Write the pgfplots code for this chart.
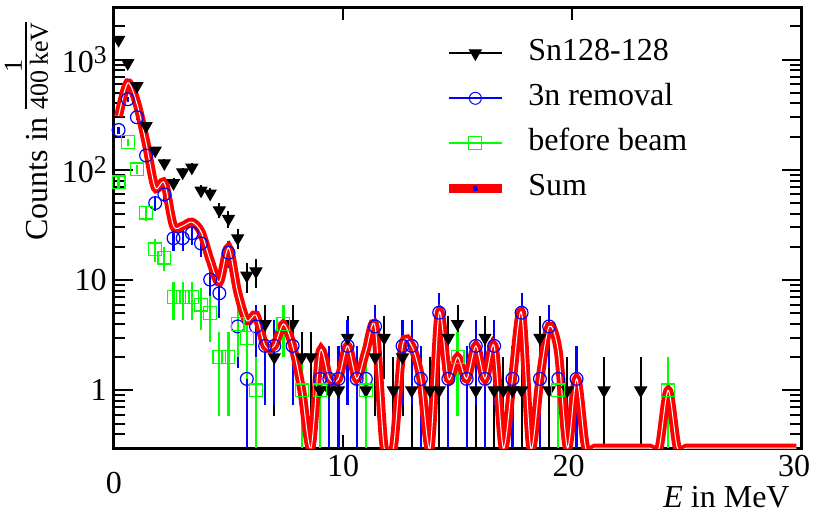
\documentclass[border=0pt]{standalone}
\usepackage{fontspec}
\setmainfont{Liberation Serif}
\usepackage{pgfplots}
\pgfplotsset{compat=1.18}
\usepackage{pgfplotstable}

\definecolor{rootgreen}{rgb}{0,1,0}

% Sn128-128 spectrum: bin centre, counts, upper and lower error
\pgfplotstableread{
x y ep em
0.2 1510 38.9 38.9
0.6 930 30.5 30.5
1.0 575 24.0 24.0
1.4 250 15.8 15.8
1.8 150 12.2 12.2
2.2 115 10.7 10.7
2.6 76 8.7 8.7
3.0 95 9.7 9.7
3.4 105 10.2 10.2
3.8 65 8.1 8.1
4.2 61 7.8 7.8
4.6 43 6.6 6.6
5.0 36 6.0 6.0
5.4 24 4.9 4.9
5.8 11 3.3 3.3
6.2 12 3.5 3.5
6.6 4 2 2
7.0 2 1.41 1.41
7.8 4 2 2
8.2 2 1.41 1.41
8.6 2 1.41 1.41
9.0 1 1 0.7
9.4 1 1 0.7
9.8 1 1 0.7
10.2 3 1.73 1.73
11.0 1 1 0.7
11.4 2 1.41 1.41
11.8 3 1.73 1.73
12.2 1 1 0.7
12.6 2 1.41 1.41
13.0 1 1 0.7
13.8 1 1 0.7
14.2 1 1 0.7
14.6 3 1.73 1.73
15.0 4 2 2
15.8 1 1 0.7
16.2 3 1.73 1.73
16.6 1 1 0.7
17.0 1 1 0.7
17.4 1 1 0.7
17.8 1 1 0.7
18.6 3 1.73 1.73
19.0 1 1 0.7
19.8 1 1 0.7
21.4 1 1 0.7
23.0 1 1 0.7
}\tabsn

% 3n removal template (scaled counts)
\pgfplotstableread{
x y ep em
0.2 230 17 17
0.6 437 23.5 23.5
1.0 300 19.5 19.5
1.4 135 13 13
1.8 50 8 8
2.2 60 8.7 8.7
2.6 24 5.5 5.5
3.0 24 5.5 5.5
3.4 26.6 5.8 5.8
3.8 21.5 5.2 5.2
4.2 10.1 3.6 3.6
4.6 7.6 3.1 3.1
5.0 17.7 4.7 4.7
5.4 3.8 2.19 2.19
5.8 1.27 1.27 0.97
6.2 3.8 2.19 2.19
6.6 2.53 1.79 1.79
7.0 2.53 1.79 1.79
7.8 2.53 1.79 1.79
9.0 1.27 1.27 0.97
9.4 1.27 1.27 0.97
9.8 1.27 1.27 0.97
10.2 2.53 1.79 1.79
10.6 1.27 1.27 0.97
11.0 1.27 1.27 0.97
11.4 3.8 2.19 2.19
12.6 2.53 1.79 1.79
13.0 2.53 1.79 1.79
13.4 1.27 1.27 0.97
14.2 5.06 2.53 2.53
14.6 1.27 1.27 0.97
15.4 1.27 1.27 0.97
15.8 2.53 1.79 1.79
16.2 1.27 1.27 0.97
16.6 2.53 1.79 1.79
17.4 1.27 1.27 0.97
17.8 5.06 2.53 2.53
18.6 1.27 1.27 0.97
19.0 3.8 2.19 2.19
19.4 1.27 1.27 0.97
20.2 1.27 1.27 0.97
}\tabthree

% before-beam background
\pgfplotstableread{
x y ep em
0.2 77 8.8 8.8
0.6 178 13.3 13.3
1.0 101 10 10
1.4 41 6.4 6.4
1.8 19 4.4 4.4
2.2 16 4 4
2.6 7 2.65 2.65
3.0 7 2.65 2.65
3.4 7 2.65 2.65
3.8 6 2.45 2.45
4.2 5 2.24 2.24
4.6 2 1.41 1.41
5.0 2 1.41 1.41
5.4 4 2 2
5.8 3 1.73 1.73
6.2 1 1 0.7
7.4 4 2 2
8.2 1 1 0.7
9.0 1 1 0.7
11.0 1 1 0.7
15.0 2 1.41 1.41
19.4 1 1 0.7
24.2 1 1 0.7
}\tabbeam

% sum of both templates; empty bins sit on the lower axis limit
\pgfplotstableread{
x y
0.2 307
0.6 615
1.0 401
1.4 176
1.8 69
2.2 76
2.6 31
3.0 31
3.4 33.6
3.8 27.5
4.2 15.1
4.6 9.6
5.0 19.7
5.4 7.8
5.8 4.27
6.2 4.8
6.6 2.53
7.0 2.53
7.4 4
7.8 2.53
8.2 1
8.6 0.3
9.0 2.27
9.4 1.27
9.8 1.27
10.2 2.53
10.6 1.27
11.0 2.27
11.4 3.8
11.8 0.3
12.2 0.3
12.6 2.53
13.0 2.53
13.4 1.27
13.8 0.3
14.2 5.06
14.6 1.27
15.0 2
15.4 1.27
15.8 2.53
16.2 1.27
16.6 2.53
17.0 0.3
17.4 1.27
17.8 5.06
18.2 0.3
18.6 1.27
19.0 3.8
19.4 2.27
19.8 0.3
20.2 1.27
20.6 0.3
21.0 0.3
21.4 0.3
21.8 0.3
22.2 0.3
22.6 0.3
23.0 0.3
23.4 0.3
23.8 0.3
24.2 1
24.6 0.3
25.0 0.3
25.4 0.3
25.8 0.3
26.2 0.3
26.6 0.3
27.0 0.3
27.4 0.3
27.8 0.3
28.2 0.3
28.6 0.3
29.0 0.3
29.4 0.3
29.8 0.3
}\tabsum

\newcommand\sups[1]{\raisebox{4.8bp}{\fontsize{12.8bp}{13bp}\selectfont #1}}
% unit fraction 1/(400 keV) for the y title
\newcommand\perbin{%
  \setbox0\hbox{\fontsize{13bp}{14bp}\selectfont 400\,keV}%
  \rlap{\copy0}%
  \rlap{\raisebox{10.5bp}{\rule{\wd0}{0.8bp}}}%
  \makebox[\wd0]{\raisebox{13bp}{\fontsize{13bp}{14bp}\selectfont 1}}%
}

\begin{document}
\fontsize{16bp}{19bp}\selectfont
\begin{tikzpicture}
\path[use as bounding box] (-57bp,-33.5bp) rectangle (350bp,224bp);
\begin{axis}[
  at={(0,0)}, anchor=south west,
  scale only axis, width=343.5bp, height=220.5bp,
  ymode=log, xmin=0, xmax=30, ymin=0.3, ymax=3000,
  clip=true,
  axis line style={line width=1.5bp},
  every tick/.style={line width=1bp, black},
  tick align=inside,
  major tick length=9.5bp, minor tick length=5.5bp,
  xtick=\empty,
  extra x ticks={10,20,30},
  extra x tick labels={10,20\hspace*{3.5bp},30\hspace*{7bp}},
  extra x tick style={grid=none, major tick length=6.5bp},
  x tick label style={inner sep=0pt, anchor=north, yshift=-3.5bp},
  ytick={0.1,1,10,100,1000,10000},
  yticklabels={,1,10,10\sups{2},10\sups{3},},
  y tick label style={inner sep=0pt, anchor=east, xshift=-3.5bp},
  xlabel={\textit{E} in MeV},
  xlabel style={at={(axis description cs:0.984,-0.1338)}, anchor=base east, inner sep=0pt},
  ylabel={Counts in\hspace{4bp}\perbin},
  ylabel style={at={(axis description cs:-0.0961,0.966)}, anchor=base east, inner sep=0pt},
  legend cell align=left,
  legend style={at={(axis description cs:0.4803,0.9288)}, anchor=north west,
    draw=none, fill=none, inner sep=0pt, row sep=8bp, column sep=11bp,
    nodes={inner sep=0pt, text height=11bp, text depth=3.5bp}},
  legend image code/.code={\draw[mark repeat=2, mark phase=2, #1] plot coordinates {(0bp,0bp) (13.25bp,0bp) (26.5bp,0bp)};},
  error bars/y dir=both, error bars/y explicit,
  after end axis/.code={\node[anchor=north, inner sep=0pt] at (axis description cs:0,-0.0544) {0};},
]
\addlegendimage{black, line width=1bp, mark=triangle*, mark size=3.4bp, mark options={rotate=180, line width=0.5bp}}
\addlegendentry{Sn128-128}
\addlegendimage{blue, line width=1bp, mark=o, mark size=3bp, mark options={line width=0.5bp, fill=white}}
\addlegendentry{3n removal}
\addlegendimage{rootgreen, line width=1bp, mark=square, mark size=3.2bp, mark options={line width=0.5bp, fill=white}}
\addlegendentry{before beam}
\addlegendimage{red, line width=4.5bp, mark=*, mark size=1bp, mark options={blue, line width=0pt}}
\addlegendentry{Sum}

\addplot[forget plot, only marks, black, mark=triangle*, mark size=3.4bp,
  mark options={rotate=180, line width=0.5bp},
  error bars/error bar style={line width=1bp, black}, error bars/error mark=none]
  table[x=x, y=y, y error plus=ep, y error minus=em] {\tabsn};
\addplot[forget plot, only marks, blue, mark=o, mark size=3.2bp,
  mark options={line width=0.6bp, fill=white},
  error bars/error bar style={line width=1.1bp, blue}, error bars/error mark=none]
  table[x=x, y=y, y error plus=ep, y error minus=em] {\tabthree};
\addplot[forget plot, only marks, rootgreen, mark=square, mark size=3.2bp,
  mark options={line width=0.6bp, fill=white},
  error bars/error bar style={line width=1.1bp, rootgreen}, error bars/error mark=none]
  table[x=x, y=y, y error plus=ep, y error minus=em] {\tabbeam};
\addplot[forget plot, red, line width=4.4bp, smooth, tension=0.5, no marks, error bars/y dir=none]
  table[x=x, y=y] {\tabsum};
\addplot[forget plot, white, line width=0.5bp, smooth, tension=0.5, no marks, error bars/y dir=none]
  table[x=x, y=y] {\tabsum};
\end{axis}
\end{tikzpicture}
\end{document}
